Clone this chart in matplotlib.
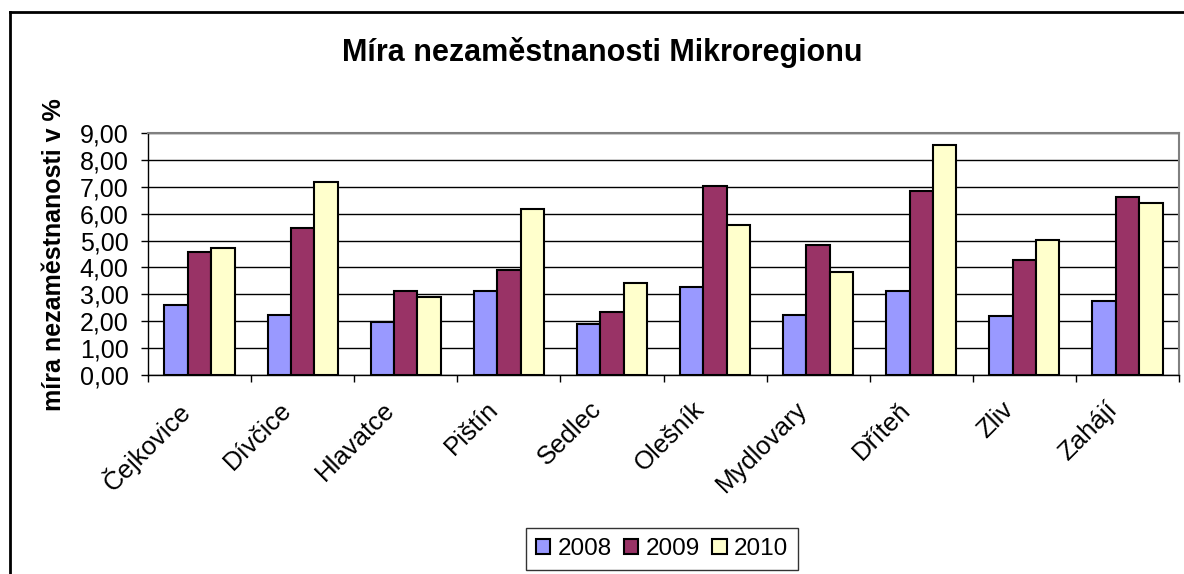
import matplotlib.pyplot as plt
import matplotlib.transforms as mtransforms
import numpy as np
from matplotlib.lines import Line2D

plt.rcParams['font.family'] = ['Liberation Sans', 'DejaVu Sans']

obce = ['Čejkovice', 'Dívčice', 'Hlavatce', 'Pištín', 'Sedlec', 'Olešník',
        'Mydlovary', 'Dříteň', 'Zliv', 'Zahájí']
roky = ['2008', '2009', '2010']
m2008 = [2.60, 2.24, 1.97, 3.12, 1.88, 3.27, 2.25, 3.12, 2.18, 2.75]
m2009 = [4.57, 5.45, 3.12, 3.91, 2.33, 7.03, 4.85, 6.83, 4.28, 6.61]
m2010 = [4.73, 7.18, 2.91, 6.16, 3.42, 5.58, 3.84, 8.56, 5.02, 6.39]
barvy = ['#9999FF', '#993366', '#FFFFCC']

W, H = 1184, 574
fig = plt.figure(figsize=(W / 100, H / 100), dpi=100)
ax = fig.add_axes([148 / W, (H - 375) / H, (1179 - 148) / W, (375 - 133) / H])

x = np.arange(len(obce))
w = 0.227
for i, (vals, rok) in enumerate(zip([m2008, m2009, m2010], roky)):
    ax.bar(x + (i - 1) * w, vals, w, color=barvy[i], edgecolor='black',
           linewidth=1.5, label=rok, zorder=3)

ax.set_xlim(-0.5, len(obce) - 0.5)
ax.set_ylim(0, 9)
ax.set_yticks(np.arange(0, 10, 1))
ax.set_yticklabels([f'{v:.2f}'.replace('.', ',') for v in range(10)], fontsize=18)
ax.yaxis.grid(True, color='black', linewidth=1, zorder=0)
ax.set_axisbelow(True)

ax.set_xticks(x)
ax.set_xticklabels(obce, rotation=45, ha='right', va='top',
                   rotation_mode='anchor', fontsize=18.5)
ax.tick_params(axis='x', length=0, pad=16)
shift = mtransforms.ScaledTranslation(-23 / 100, 0, fig.dpi_scale_trans)
for lab in ax.get_xticklabels():
    lab.set_transform(lab.get_transform() + shift)
ax.set_xticks(np.arange(-0.5, len(obce), 1), minor=True)
ax.tick_params(axis='x', which='minor', length=5, color='black', width=1)
ax.tick_params(axis='y', length=5, color='black', width=1, pad=9)

for s in ['top', 'right']:
    ax.spines[s].set_color('#808080')
    ax.spines[s].set_linewidth(1.5)
for s in ['left', 'bottom']:
    ax.spines[s].set_color('black')
    ax.spines[s].set_linewidth(1)

ax.set_ylabel('míra nezaměstnanosti v %', fontsize=18, fontweight='bold')
ax.yaxis.set_label_coords((66 - 148) / (1179 - 148), (375 - 255) / (375 - 133))

fig.text(602 / W, 1 - 52 / H, 'Míra nezaměstnanosti Mikroregionu',
         ha='center', va='center', fontsize=22, fontweight='bold')

leg = ax.legend(loc='center', bbox_to_anchor=(662 / W, 1 - 549 / H),
                bbox_transform=fig.transFigure, ncol=3, fontsize=17.5,
                frameon=True, fancybox=False, edgecolor='black',
                handlelength=0.6, handleheight=0.6, handletextpad=0.3,
                columnspacing=0.5, borderpad=0.4, borderaxespad=0)
leg.get_frame().set_linewidth(1)

# outer chart border (left and top edges visible)
fig.add_artist(Line2D([10 / W, 10 / W], [0, 1 - 12 / H], color='black',
                      linewidth=2, transform=fig.transFigure))
fig.add_artist(Line2D([10 / W, 1], [1 - 12 / H, 1 - 12 / H], color='black',
                      linewidth=2, transform=fig.transFigure))

fig.savefig('out.png', dpi=100)
